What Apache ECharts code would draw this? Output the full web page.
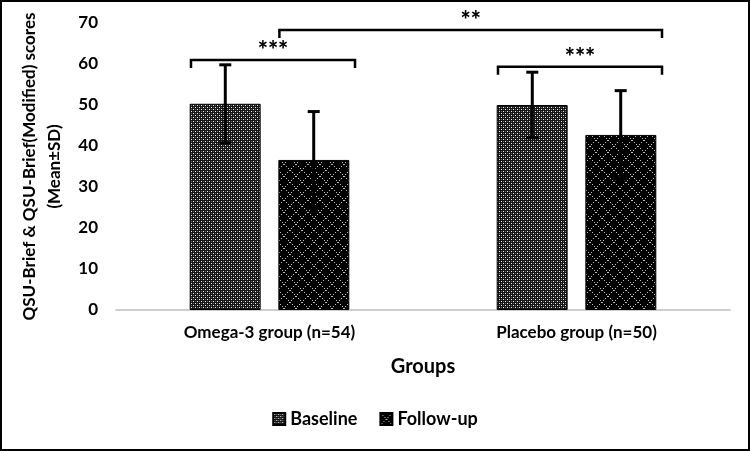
<!DOCTYPE html>
<html>
<head>
<meta charset="utf-8">
<script src="https://cdn.jsdelivr.net/npm/echarts@6/dist/echarts.min.js"></script>
<style>
  html, body { margin: 0; padding: 0; background: #fff; }
  #chart { width: 750px; height: 451px; box-sizing: border-box; border: 2px solid #000; }
</style>
</head>
<body>
<div id="chart"></div>
<script>
var groups = ['Omega-3 group (n=54)', 'Placebo group (n=50)'];
var seriesNames = ['Baseline', 'Follow-up'];
var baselineMean = [50.3, 50.0];
var baselineSD = [9.5, 8.0];
var followupMean = [36.6, 42.7];
var followupSD = [11.8, 10.8];
var yTicks = [0, 10, 20, 30, 40, 50, 60, 70];
// significance brackets: [from group, from series, to group, to series, height, label]
var brackets = [
    [0, 0, 0, 1, 61.0, '***'],
    [1, 0, 1, 1, 59.3, '***'],
    [0, 1, 1, 1, 68.3, '**']
];

var FONT = 'Lato, "Open Sans", sans-serif';

function makePattern(kind) {
    var c = document.createElement('canvas');
    var ctx;
    if (kind === 'fine') {
        c.width = 4; c.height = 4;
        ctx = c.getContext('2d');
        ctx.fillStyle = '#151515';
        ctx.fillRect(0, 0, 4, 4);
        ctx.fillStyle = '#eee';
        ctx.fillRect(1, 1, 1, 1);
        ctx.fillRect(3, 3, 1, 1);
        ctx.fillStyle = '#6a6a6a';
        ctx.fillRect(3, 1, 1, 1);
        ctx.fillRect(1, 3, 1, 1);
    } else {
        c.width = 12; c.height = 12;
        ctx = c.getContext('2d');
        ctx.fillStyle = '#000';
        ctx.fillRect(0, 0, 12, 12);
        ctx.fillStyle = '#bbb';
        for (var i = 0; i < 12; i += 2) {
            ctx.fillRect(i, i, 1, 1);
            ctx.fillRect(11 - i, i, 1, 1);
        }
    }
    return { image: c, repeat: 'repeat' };
}

var barOffset = [-0.144, 0.144];
var barHalf = 0.115;

function errorData(means, sds) {
    return means.map(function (m, i) { return [i, m, sds[i]]; });
}

function errorSeries(idx, means, sds) {
    return {
        type: 'custom',
        z: 5,
        silent: true,
        data: errorData(means, sds),
        encode: { x: 0, y: 1 },
        renderItem: function (params, api) {
            var band = api.size([1, 0])[0];
            var c = api.coord([api.value(0), api.value(1)]);
            var x = c[0] + band * barOffset[idx];
            var top = api.coord([api.value(0), api.value(1) + api.value(2)])[1];
            var bot = api.coord([api.value(0), api.value(1) - api.value(2)])[1];
            var st = { stroke: '#000', lineWidth: 3 };
            return {
                type: 'group',
                children: [
                    { type: 'line', shape: { x1: x, y1: top, x2: x, y2: bot }, style: st },
                    { type: 'line', shape: { x1: x - 6, y1: top, x2: x + 6, y2: top }, style: st },
                    { type: 'line', shape: { x1: x - 6, y1: bot, x2: x + 6, y2: bot }, style: st }
                ]
            };
        }
    };
}

var chart = echarts.init(document.getElementById('chart'));

var option = {
    animation: false,
    backgroundColor: '#fff',
    textStyle: { fontFamily: FONT },
    grid: { left: 114, right: 18, top: 21, bottom: 139 },
    legend: {
        data: seriesNames,
        bottom: 16,
        left: 'center',
        itemWidth: 12,
        itemHeight: 12,
        itemGap: 22,
        icon: 'rect',
        textStyle: { fontFamily: FONT, fontWeight: 'bold', fontSize: 18, color: '#000' }
    },
    xAxis: {
        type: 'category',
        data: groups,
        name: 'Groups',
        nameLocation: 'middle',
        nameGap: 47,
        nameTextStyle: { fontFamily: FONT, fontWeight: 'bold', fontSize: 20, color: '#000' },
        axisLine: { lineStyle: { color: '#bfbfbf', width: 1.5 } },
        axisTick: { show: false },
        axisLabel: { margin: 14, fontFamily: FONT, fontWeight: 'bold', fontSize: 17, color: '#000' }
    },
    yAxis: {
        type: 'value',
        min: yTicks[0],
        max: yTicks[yTicks.length - 1],
        interval: 10,
        name: 'QSU-Brief & QSU-Brief(Modified) scores\n(Mean±SD)',
        nameLocation: 'middle',
        nameGap: 44,
        nameTextStyle: { fontFamily: FONT, fontWeight: 'bold', fontSize: 17, color: '#000', lineHeight: 25 },
        axisLine: { show: false },
        axisTick: { show: false },
        splitLine: { show: false },
        axisLabel: { margin: 18, fontFamily: FONT, fontWeight: 'bold', fontSize: 17, color: '#000' }
    },
    series: [
        {
            name: seriesNames[0],
            type: 'bar',
            data: baselineMean,
            barGap: '25%',
            barCategoryGap: '48%',
            itemStyle: { color: makePattern('fine'), borderColor: '#000', borderWidth: 1 }
        },
        {
            name: seriesNames[1],
            type: 'bar',
            data: followupMean,
            itemStyle: { color: makePattern('lattice'), borderColor: '#000', borderWidth: 1 }
        },
        errorSeries(0, baselineMean, baselineSD),
        errorSeries(1, followupMean, followupSD),
        {
            type: 'custom',
            z: 6,
            silent: true,
            data: brackets,
            encode: { x: 0, y: 4 },
            renderItem: function (params, api) {
                var b = brackets[params.dataIndex];
                var band = api.size([1, 0])[0];
                var x1 = api.coord([b[0], 0])[0] + band * (barOffset[b[1]] - barHalf) + 1;
                var x2 = api.coord([b[2], 0])[0] + band * (barOffset[b[3]] + barHalf) + 6;
                var y = api.coord([0, b[4]])[1];
                var st = { stroke: '#000', lineWidth: 2.5, fill: null };
                return {
                    type: 'group',
                    children: [
                        { type: 'polyline', shape: { points: [[x1, y + 8], [x1, y], [x2, y], [x2, y + 8]] }, style: st },
                        {
                            type: 'text',
                            style: {
                                x: (x1 + x2) / 2, y: y - 9,
                                text: b[5],
                                align: 'center', verticalAlign: 'middle',
                                font: '900 24px ' + FONT, fill: '#000'
                            }
                        }
                    ]
                };
            }
        }
    ]
};

chart.setOption(option);
</script>
</body>
</html>
